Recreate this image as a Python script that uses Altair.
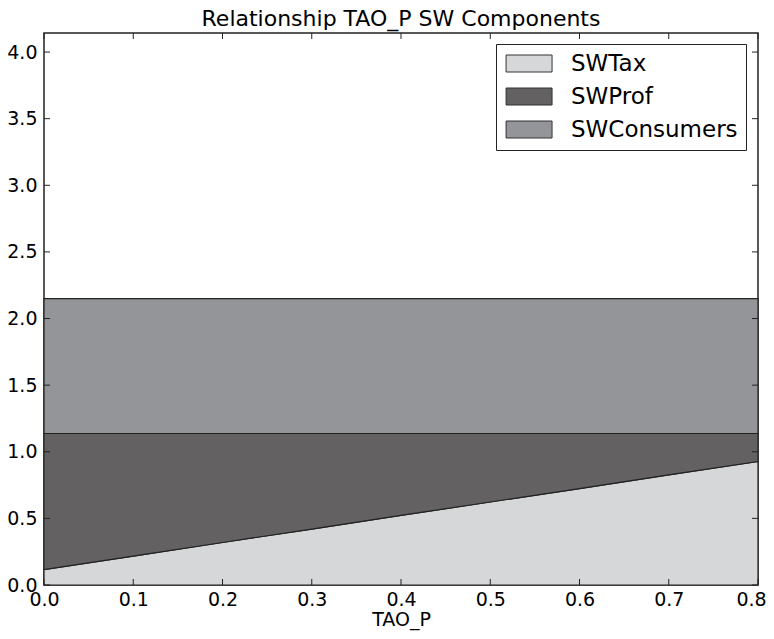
import altair as alt
import pandas as pd

tao_p = [0.0, 0.1, 0.2, 0.3, 0.4, 0.5, 0.6, 0.7, 0.8]
sw_tax = [0.116, 0.217, 0.319, 0.420, 0.522, 0.623, 0.724, 0.826, 0.927]
sw_prof = [1.021, 0.920, 0.818, 0.717, 0.615, 0.514, 0.413, 0.311, 0.210]
sw_consumers = [1.013, 1.013, 1.013, 1.013, 1.013, 1.013, 1.013, 1.013, 1.013]
series = ["SWTax", "SWProf", "SWConsumers"]
colors = ["#d6d7d9", "#636162", "#949599"]
x_ticks = [0.0, 0.1, 0.2, 0.3, 0.4, 0.5, 0.6, 0.7, 0.8]
y_ticks = [0.0, 0.5, 1.0, 1.5, 2.0, 2.5, 3.0, 3.5, 4.0]

rows = []
for i, x in enumerate(tao_p):
    for k, (name, vals) in enumerate(zip(series, [sw_tax, sw_prof, sw_consumers])):
        rows.append({"TAO_P": x, "series": name, "value": vals[i], "order": k})
df = pd.DataFrame(rows)
xt = pd.DataFrame({"t": x_ticks})
yt = pd.DataFrame({"t": y_ticks})

FONT = "DejaVu Sans"
W, H, TICK = 714, 552, 6
xs = alt.Scale(domain=[0, 0.8], nice=False, zero=False)
ys = alt.Scale(domain=[0, 4.143], nice=False)

area = alt.Chart(df).mark_area(opacity=1, stroke="#222", strokeWidth=1.2,
                               interpolate="linear").encode(
    x=alt.X("TAO_P:Q", scale=xs,
            axis=alt.Axis(orient="bottom", values=x_ticks, format=".1f",
                          ticks=False, tickSize=0, domain=False, grid=False,
                          labelFlush=False, labelPadding=5,
                          labelOffset={"condition": {"test": "datum.value > 0.75",
                                                     "value": -7}, "value": 0},
                          title="TAO_P", titlePadding=1,
                          titleFontSize=19, titleFontWeight="normal",
                          titleFont=FONT, titleColor="black")),
    y=alt.Y("value:Q", stack="zero", scale=ys,
            axis=alt.Axis(orient="left", values=y_ticks, format=".1f",
                          ticks=False, tickSize=0, domain=False, grid=False,
                          labelPadding=7, title=None)),
    color=alt.Color("series:N", scale=alt.Scale(domain=series, range=colors),
                    legend=alt.Legend(
                        title=None, orient="none", legendX=452, legendY=11,
                        padding=8, strokeColor="#222", fillColor="white",
                        symbolType="M-1.11,-1L4.3,-1L4.3,1L-1.11,1Z",
                        symbolSize=289, symbolStrokeColor="#333",
                        symbolStrokeWidth=1, symbolOpacity=1,
                        labelFontSize=23, labelFont=FONT, labelColor="black",
                        labelLimit=400, labelOffset=44, rowPadding=9)),
    order=alt.Order("order:Q"),
)

tick_style = dict(color="#222", strokeWidth=1)
x_bottom = alt.Chart(xt).mark_rule(**tick_style).encode(
    x=alt.X("t:Q", scale=xs, axis=None), y=alt.value(H), y2=alt.value(H - TICK))
x_top = alt.Chart(xt).mark_rule(**tick_style).encode(
    x=alt.X("t:Q", scale=xs, axis=None), y=alt.value(0), y2=alt.value(TICK))
y_left = alt.Chart(yt).mark_rule(**tick_style).encode(
    y=alt.Y("t:Q", scale=ys, axis=None), x=alt.value(0), x2=alt.value(TICK))
y_right = alt.Chart(yt).mark_rule(**tick_style).encode(
    y=alt.Y("t:Q", scale=ys, axis=None), x=alt.value(W), x2=alt.value(W - TICK))

chart = alt.layer(area, x_bottom, x_top, y_left, y_right).resolve_axis(
    x="independent", y="independent"
).properties(
    width=W, height=H,
    padding={"left": 36, "top": 25, "right": 8, "bottom": 46},
    autosize=alt.AutoSizeParams(type="none"),
    title=alt.Title("Relationship TAO_P SW Components", fontSize=22, font=FONT,
                    fontWeight="normal", color="black", offset=2),
).configure_view(
    stroke="#222", strokeWidth=1.5
).configure_axis(
    labelFont=FONT, labelFontSize=19, labelColor="black"
)

chart.save("out.html", embed_options={"renderer": "svg", "actions": False})
